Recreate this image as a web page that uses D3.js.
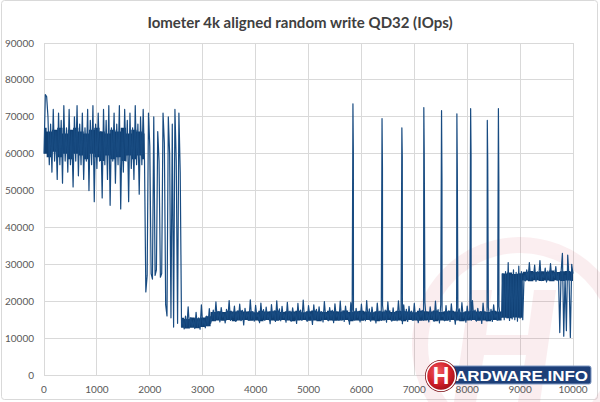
<!DOCTYPE html>
<html><head><meta charset="utf-8">
<script src="https://cdn.jsdelivr.net/npm/d3@7"></script>
<style>body{margin:0;background:#fff} svg{display:block}</style>
</head><body>
<svg id="chart" width="600" height="402"></svg>
<script>
const chartTitle = "Iometer 4k aligned random write QD32 (IOps)";
const xTicks = [0,1000,2000,3000,4000,5000,6000,7000,8000,9000,10000];
const yTicks = [0,10000,20000,30000,40000,50000,60000,70000,80000,90000];

// series values in thousands of IOps, sampled every 25 units
const sampleStep = 25;
const burstStart = 0;
const burstPhaseK = [
 60,76,75.5,70,57,68,55,72,58,66,
 53,71,57,69,52,73,58,67,55,72,
 57,66,51,70,58,73,54,68,57,71,
 53,67,58,72,50,69,57,73,47,68,
 56,71,58,66,48,72,57,69,53,73,
 46,67,58,71,52,68,57,73,45,66,
 55,72,58,69,47,71,56,67,53,73,
 57,68,49,70,57,72,58,
 22.5,27,71,62,27.5,26,70,27,28.5,66,58,26.5,27.5,71,
 63,19,16,70,60,15.5,68,13,72,58,14,71,55,13
];
const steadyStart = 2625;
const steadyPhaseK = [
 15,12.5,16,13,18.5,12.8,15.5,13.2,14.8,12.6,17,13,15.5,12.4,19,13.5,15,12.8,16,13.4,18,14,
 15.4,17.6,14.9,19.8,15.2,17.1,14.4,18.3,15.7,16.6,
 14.1,17.8,15.3,20.2,14.8,16.9,15.6,18.7,14.5,17.3,
 15.1,19.2,14.7,17.5,13.6,18.1,15.5,16.8,14.9,20.4,
 15.3,17.2,14.6,18.9,15.8,16.4,14.2,19.5,15.4,17.7,
 14.8,18.4,15.2,16.7,13.9,19.1,15.6,17.4,14.5,20.1,
 15.1,17.9,14.7,18.6,15.5,16.5,14.3,19.7,15.2,17.3,
 14.6,18.2,15.7,16.9,14.0,19.4,15.3,17.6,14.8,20.3,
 15.4,17.0,14.5,18.8,15.9,16.6,13.7,19.0,15.2,17.8,
 14.9,18.5,15.1,17.2,14.4,19.9,15.6,16.8,14.7,18.3,
 15.3,17.5,14.2,19.3,15.7,16.7,14.8,20.0,15.0,17.4,
 14.5,18.7,15.5,16.9,13.8,19.6,15.2,17.7,14.9,18.1,
 15.6,17.1,14.4,19.2,15.3,16.5,14.7,20.2,15.1,17.9,
 14.6,18.4,15.8,17.0,14.1,19.5,15.4,17.3,14.8,18.9,
 15.2,17.6,14.3,19.8,15.5,16.8,14.6,18.2,15.0,17.2,
 14.7,20.1,15.6,16.6,13.9,19.0,15.3,17.8,14.5,18.6,
 15.4,17.3,14.8,19.4,15.1,16.9,14.2,18.0,15.7,17.5,
 14.9,19.7,15.2,16.7,14.4,18.5,15.5,17.1,14.6,20.0,
 15.3,17.7,14.1,19.1,15.8,16.4,14.7,18.8,15.0,17.4,
 14.5,19.3,15.6,16.8,13.8,18.3,15.2,17.9,14.9,19.6,
 15.5,17.0,14.3,18.7,15.4,16.6,14.8,20.2,15.1,17.6,
 14.6,18.1,15.7,17.2,14.0,19.5,15.3,16.9,14.7,18.4,
 15.2,17.8,14.5,19.0,15.6,16.5,14.9,18.6,15.4
];
const tailStart = 8650;
const tailPhaseK = [
 16,27.5,15,28,15.5,30.5,14.8,27,15.2,28.5,15,27.8,14.6,29.5,15.4,28,15,
 27,25.5,28.5,26,30.5,25.8,27.5,26.2,29.8,25.4,28,26,31,25.6,27.4,26.4,29,25.2,28.2,26,30.2,25.8,27.6,26.4,29.4,25.6,
 27.5,11.5,28,33,10.5,27,12,32.5,26.5,10.2,30,27.5
];
// isolated burst spikes during the steady phase
const spikeTopX = [5840,6390,6765,7180,7515,7805,8065,8380,8590];
const spikeTopK = [73.5,69.5,67,72.5,71.7,70.8,72.2,69,72.2];
const spikeLowX = [5848,6398,6773,7188,7523,7813,8073,8388,8598];
const spikeLowK = [60,56,59,60,53,55.7,59.7,58,52];

// dense core band of the trace (thousands of IOps), every 100 units
const coreStep = 100;
const burstCoreStart = 0;
const burstCoreLowK  = [60,59,60.5,59,60,58.5,60,59.5,58.5,60,59,58,59.5,58.5,59,58,59.5,58.5,59.5,58.5];
const burstCoreHighK = [67,66,66.5,67,65.5,66.5,67,66,65.5,66.5,67,66,65.5,66.5,66,67,65.5,66.5,66,65.5];
const steadyCoreStart = 2600;
const steadyCoreLowK = [
 12.8,12.6,12.8,12.7,13,13.2,14.6,
 14.8,14.7,14.9,14.6,14.8,14.9,14.7,14.8,14.6,14.9,
 14.8,14.7,14.9,14.8,14.6,14.8,14.9,14.7,14.8,14.6,
 14.9,14.8,14.7,14.8,14.9,14.6,14.8,14.7,14.9,14.8,
 14.6,14.8,14.9,14.7,14.8,14.6,14.9,14.8,14.7,14.8,
 14.9,14.6,14.8,14.7,14.9,14.8,14.6,14.8,14.9,14.7,
 14.8,14.6,14.9,14.8,
 15.5,15.4,15.6,15.5,
 25.6,25.4,25.7,25.5,25.6,25.4,25.7,25.5,25.6,25.5
];
const steadyCoreHighK = [
 15.5,15.2,15.6,15.4,15.6,15.9,17.1,
 17.3,17.1,17.4,17.2,17.5,17.2,17.3,17.0,17.4,17.2,
 17.3,17.5,17.1,17.3,17.2,17.4,17.0,17.3,17.5,17.2,
 17.1,17.4,17.3,17.2,17.5,17.1,17.3,17.4,17.2,17.0,
 17.3,17.2,17.5,17.1,17.4,17.3,17.2,17.0,17.4,17.3,
 17.2,17.5,17.1,17.3,17.4,17.2,17.0,17.3,17.5,17.2,
 17.3,17.1,17.4,17.2,
 27.5,27.8,27.4,27.6,
 28,28.2,27.9,28.1,28,28.3,27.9,28.1,28.2,28
];

const svg = d3.select("#chart");
const plot = {left:44, right:573, top:43, bottom:375};
const x = d3.scaleLinear().domain([0,10000]).range([plot.left, plot.right]);
const y = d3.scaleLinear().domain([0,90000]).range([plot.bottom, plot.top]);

// outer border
svg.append("rect").attr("x",1.5).attr("y",0.5).attr("width",596).attr("height",399)
  .attr("rx",3).attr("fill","#fff").attr("stroke","#d9d9d9");

// title
svg.append("text").attr("x",300).attr("y",28).attr("text-anchor","middle")
  .attr("font-family","Lato, 'Open Sans', sans-serif").attr("font-weight","bold")
  .attr("font-size",15).attr("fill","#404040").text(chartTitle);

// gridlines
const grid = svg.append("g").attr("shape-rendering","crispEdges").attr("stroke","#d9d9d9");
grid.selectAll(".gx").data(xTicks).enter().append("line")
  .attr("x1",d=>x(d)).attr("x2",d=>x(d)).attr("y1",plot.top).attr("y2",plot.bottom);
grid.selectAll(".gy").data(yTicks).enter().append("line")
  .attr("x1",plot.left).attr("x2",plot.right).attr("y1",d=>y(d)).attr("y2",d=>y(d));

// watermark (faint)
const wm = svg.append("g").attr("opacity",0.07);
wm.append("circle").attr("cx",520).attr("cy",345).attr("r",100)
  .attr("fill","none").attr("stroke","#c8102e").attr("stroke-width",16);
wm.append("path").attr("d","M470 290 L492 290 L486 335 L528 335 L534 290 L556 290 L540 402 L518 402 L526 355 L484 355 L476 402 L454 402 Z")
  .attr("fill","#c8102e");

// axis tick labels
const lab = svg.append("g").attr("font-family","Lato, 'Open Sans', sans-serif")
  .attr("font-size",10).attr("fill","#595959");
lab.selectAll(".yl").data(yTicks).enter().append("text")
  .attr("x",34).attr("y",d=>y(d)).attr("dy","0.35em").attr("text-anchor","end").text(d=>d);
lab.selectAll(".xl").data(xTicks).enter().append("text")
  .attr("x",d=>x(d)).attr("y",393).attr("text-anchor","middle").text(d=>d);

// dense core bands
const area = d3.area().curve(d3.curveStep)
  .x(d=>x(d.t)).y0(d=>y(d.lo*1000)).y1(d=>y(d.hi*1000));
[[burstCoreStart,burstCoreLowK,burstCoreHighK],[steadyCoreStart,steadyCoreLowK,steadyCoreHighK]].forEach(([start,lows,highs])=>{
  const band = lows.map((lo,i)=>({t:start+i*coreStep, lo:lo, hi:highs[i]}));
  svg.append("path").datum(band).attr("d",area).attr("fill","#0f3f73");
});

// series
const points = [];
[[burstStart,burstPhaseK],[steadyStart,steadyPhaseK],[tailStart,tailPhaseK]].forEach(([start,vals])=>{
  vals.forEach((v,j)=>points.push({t:start+j*sampleStep, v:v*1000}));
});
spikeTopX.forEach((t,k)=>{
  points.push({t, v:spikeTopK[k]*1000});
  points.push({t:spikeLowX[k], v:spikeLowK[k]*1000});
});
points.sort((a,b)=>a.t-b.t);
const line = d3.line().x(d=>x(d.t)).y(d=>y(d.v));
svg.append("path").datum(points).attr("d",line)
  .attr("fill","none").attr("stroke","#184b81").attr("stroke-width",1.2)
  .attr("stroke-linejoin","round");

// logo
const logo = svg.append("g");
logo.append("rect").attr("x",430).attr("y",366).attr("width",161).attr("height",18).attr("rx",2)
  .attr("fill","#1d3f78").attr("stroke","#7f98c2").attr("stroke-width",1);
logo.append("text").attr("x",455).attr("y",381).attr("fill","#fff")
  .attr("font-family","'Liberation Sans', Arial, sans-serif").attr("font-weight","bold")
  .attr("font-size",15).attr("textLength",133).attr("lengthAdjust","spacingAndGlyphs").text("ARDWARE.INFO");
const grad = svg.append("defs").append("radialGradient").attr("id","rg").attr("cx","40%").attr("cy","35%").attr("r","70%");
grad.append("stop").attr("offset","0%").attr("stop-color","#f05a5f");
grad.append("stop").attr("offset","60%").attr("stop-color","#d01f29");
grad.append("stop").attr("offset","100%").attr("stop-color","#9a0e15");
logo.append("circle").attr("cx",441).attr("cy",376).attr("r",16).attr("fill","#7a0c12");
logo.append("circle").attr("cx",441).attr("cy",376).attr("r",14.5).attr("fill","url(#rg)")
  .attr("stroke","#fff").attr("stroke-width",1.5);
logo.append("text").attr("x",441).attr("y",384).attr("text-anchor","middle").attr("fill","#fff")
  .attr("font-family","'Liberation Sans', Arial, sans-serif").attr("font-weight","bold")
  .attr("font-size",23).text("H");
</script>
</body></html>
